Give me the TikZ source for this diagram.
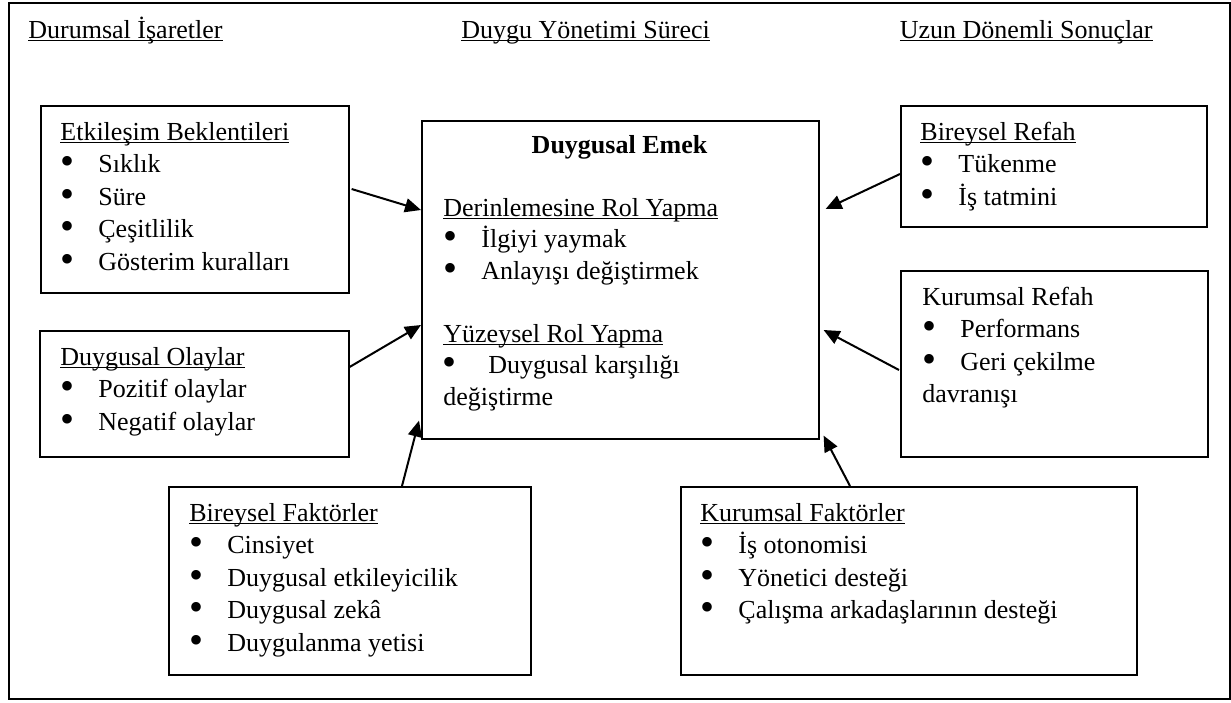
\documentclass[tikz,border=0pt]{standalone}
\usepackage{fontspec}
\setmainfont{Liberation Serif}
\usetikzlibrary{arrows.meta,calc}

% underline placed like a word processor's: close under the baseline
\newcommand\ulin[1]{\leavevmode\setbox0\hbox{#1}\rlap{\rule[-1.6pt]{\wd0}{0.6pt}}\box0}
% large round bullet, kept out of the line spacing
\newcommand\bul{\smash{\raisebox{-1.1pt}{\fontsize{20}{0}\selectfont •}}}
% bulleted line
\newcommand\itm[1]{\par\hspace*{0pt}\makebox[19pt][l]{\bul}#1}
% block of lines, its reference point on the first baseline
\newcommand\lines[1]{\parbox[t]{220pt}{#1}}

\tikzset{
  panel/.style={draw, line width=0.8pt, anchor=north west, inner sep=0pt},
  txt/.style={anchor=base west, inner sep=0pt,
              font=\fontsize{13}{16.25}\selectfont},
  head/.style={anchor=base west, inner sep=0pt, font=\fontsize{13}{16}\selectfont},
  arr/.style={line width=1pt, -{Triangle[length=8pt,width=7pt]}}
}

\begin{document}
\begin{tikzpicture}[x=0.5pt, y=-0.5pt]
\useasboundingbox (0,0) rectangle (1231,702);
\fill[white] (0,0) rectangle (1231,702);

% outer frame
\node[panel, minimum width=610.5pt, minimum height=348pt] (frame) at (8,2) {};

% column headings
\node[head] (h1) at (28,38) {\ulin{Durumsal İşaretler}};
\node[head] (h2) at (461,38) {\ulin{Duygu Yönetimi Süreci}};
\node[head, anchor=base east] (h3) at (1153,38) {\ulin{Uzun Dönemli Sonuçlar}};

% boxes
\node[panel, minimum width=154pt, minimum height=93.5pt] (etk) at (40,105) {};
\node[panel, minimum width=154.5pt, minimum height=63pt] (olay) at (39,330) {};
\node[panel, minimum width=198.5pt, minimum height=159pt] (emek) at (421,120) {};
\node[panel, minimum width=153pt, minimum height=60.5pt] (brefah) at (900,105) {};
\node[panel, minimum width=153.5pt, minimum height=93pt] (krefah) at (900,270) {};
\node[panel, minimum width=181pt, minimum height=94pt] (bfak) at (168,486) {};
\node[panel, minimum width=228pt, minimum height=94pt] (kfak) at (680,486) {};

% box contents
\node[txt] (etk-t) at (60,140) {\lines{\ulin{Etkileşim Beklentileri}\itm{Sıklık}\itm{Süre}\itm{Çeşitlilik}\itm{Gösterim kuralları}}};
\node[txt] (olay-t) at (60,365) {\lines{\ulin{Duygusal Olaylar}\itm{Pozitif olaylar}\itm{Negatif olaylar}}};
\node[anchor=base, inner sep=0pt, font=\fontsize{13}{16}\selectfont\bfseries] (emek-h) at (619.5,153) {Duygusal Emek};
\node[txt, font=\fontsize{13}{15.75}\selectfont] (emek-t) at (443,216) {\lines{\ulin{Derinlemesine Rol Yapma}\itm{İlgiyi yaymak}\itm{Anlayışı değiştirmek}\par\vspace{15.75pt}\ulin{Yüzeysel Rol Yapma}\par\hspace*{-0.5pt}\makebox[23pt][l]{\bul}Duygusal karşılığı\par değiştirme}};
\node[txt] (brefah-t) at (920,140) {\lines{\ulin{Bireysel Refah}\itm{Tükenme}\itm{İş tatmini}}};
\node[txt] (krefah-t) at (922,305) {\lines{Kurumsal Refah\itm{Performans}\itm{Geri çekilme}\par davranışı}};
\node[txt] (bfak-t) at (189,521) {\lines{\ulin{Bireysel Faktörler}\itm{Cinsiyet}\itm{Duygusal etkileyicilik}\itm{Duygusal zekâ}\itm{Duygulanma yetisi}}};
\node[txt] (kfak-t) at (700,521) {\lines{\ulin{Kurumsal Faktörler}\itm{İş otonomisi}\itm{Yönetici desteği}\itm{Çalışma arkadaşlarının desteği}}};

% influences on emotional labour
\draw[arr] ($(etk.north east)+(2,84)$) -- ($(emek.north west)+(0,90)$);
\draw[arr] ($(olay.north east)+(0,37)$) -- ($(emek.north west)+(0,205)$);
\draw[arr] ($(brefah.north west)+(0,69)$) -- ($(emek.north east)+(6,89)$);
\draw[arr] ($(krefah.north west)+(-1,100)$) -- ($(emek.north east)+(4,210)$);
\draw[arr] ($(bfak.north west)+(234,0)$) -- ($(emek.south west)+(-2,-19)$);
\draw[arr] ($(kfak.north west)+(170,0)$) -- ($(emek.south east)+(4,-4)$);
\end{tikzpicture}
\end{document}
